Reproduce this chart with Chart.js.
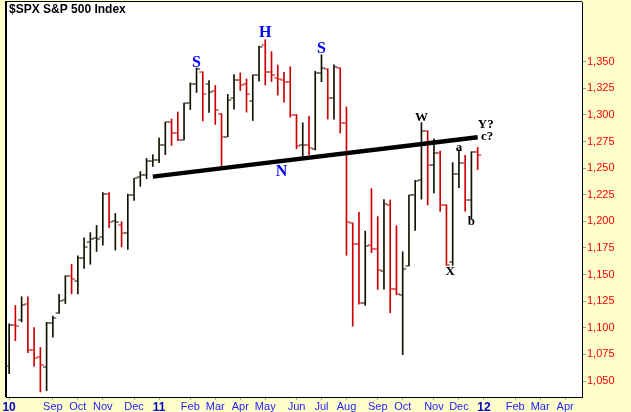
<!DOCTYPE html>
<html>
<head>
<meta charset="utf-8">
<script src="https://cdn.jsdelivr.net/npm/chart.js@4.4.1/dist/chart.umd.min.js"></script>
<style>
  html, body { margin: 0; padding: 0; background: #ffffcc; }
  #wrap { width: 631px; height: 412px; }
</style>
</head>
<body>
<div id="wrap"><canvas id="chart"></canvas></div>
<script>
// weekly bars, $SPX, week ending (Friday)
const weeks = [
  "2010-07-23","2010-07-30","2010-08-06","2010-08-13","2010-08-20","2010-08-27",
  "2010-09-03","2010-09-10","2010-09-17","2010-09-24","2010-10-01","2010-10-08",
  "2010-10-15","2010-10-22","2010-10-29","2010-11-05","2010-11-12","2010-11-19",
  "2010-11-26","2010-12-03","2010-12-10","2010-12-17","2010-12-23","2010-12-31",
  "2011-01-07","2011-01-14","2011-01-21","2011-01-28","2011-02-04","2011-02-11",
  "2011-02-18","2011-02-25","2011-03-04","2011-03-11","2011-03-18","2011-03-25",
  "2011-04-01","2011-04-08","2011-04-15","2011-04-21","2011-04-29","2011-05-06",
  "2011-05-13","2011-05-20","2011-05-27","2011-06-03","2011-06-10","2011-06-17",
  "2011-06-24","2011-07-01","2011-07-08","2011-07-15","2011-07-22","2011-07-29",
  "2011-08-05","2011-08-12","2011-08-19","2011-08-26","2011-09-02","2011-09-09",
  "2011-09-16","2011-09-23","2011-09-30","2011-10-07","2011-10-14","2011-10-21",
  "2011-10-28","2011-11-04","2011-11-11","2011-11-18","2011-11-25","2011-12-02",
  "2011-12-09","2011-12-16","2011-12-23","2011-12-30"
];
const opens = [
  1064.5,1102.9,1107.5,1122.0,1079.0,1073.0,1062.9,1104.6,1113.9,1126.0,1149.0,1143.9,
  1165.3,1180.5,1184.7,1185.7,1225.6,1200.4,1196.8,1189.4,1225.0,1241.8,1243.7,1257.0,
  1257.6,1271.6,1293.2,1283.3,1276.5,1311.0,1328.7,1340.4,1328.6,1322.7,1301.2,1279.5,
  1315.5,1332.9,1329.0,1313.4,1337.1,1365.2,1340.2,1334.8,1333.1,1331.1,1300.3,1271.3,
  1271.5,1268.4,1339.6,1343.3,1315.9,1344.3,1292.6,1198.5,1179.0,1123.1,1177.9,1174.0,
  1153.5,1215.0,1136.9,1131.2,1158.2,1224.5,1238.7,1285.0,1253.2,1263.9,1215.6,1161.4,
  1244.3,1255.1,1219.7,1265.0
];
const highs = [
  1103.7,1120.9,1129.2,1129.2,1100.1,1081.5,1105.1,1110.9,1131.5,1148.9,1159.7,1167.7,
  1184.4,1189.4,1196.1,1227.1,1227.1,1207.4,1199.7,1225.6,1240.4,1246.7,1259.1,1262.6,
  1278.2,1293.2,1296.1,1302.7,1311.0,1330.0,1344.1,1340.4,1332.3,1327.7,1301.2,1319.2,
  1337.9,1339.5,1333.8,1337.5,1364.6,1370.6,1359.4,1346.8,1340.0,1345.2,1300.3,1292.5,
  1298.6,1341.0,1356.5,1343.3,1347.0,1344.3,1307.4,1198.5,1208.5,1190.7,1230.7,1204.4,
  1220.4,1220.1,1195.9,1171.4,1224.6,1238.5,1292.7,1285.0,1277.6,1266.0,1215.6,1255.1,
  1267.1,1262.0,1265.4,1269.4
];
const lows = [
  1056.9,1087.9,1105.6,1076.6,1064.0,1039.7,1040.9,1091.2,1113.5,1122.8,1131.9,1131.9,
  1155.7,1159.7,1171.7,1177.7,1194.1,1173.0,1176.0,1173.6,1219.7,1232.9,1240.0,1251.5,
  1255.0,1262.7,1271.3,1275.8,1276.5,1305.0,1321.0,1294.3,1302.3,1291.0,1249.0,1279.5,
  1305.3,1322.9,1302.6,1294.7,1331.6,1328.0,1331.3,1318.5,1311.8,1297.9,1268.2,1258.1,
  1262.7,1267.0,1331.1,1296.0,1295.9,1282.9,1168.1,1101.5,1122.1,1121.1,1170.6,1136.1,
  1136.2,1114.2,1131.0,1074.8,1158.2,1191.5,1220.8,1215.4,1226.6,1209.4,1158.7,1158.7,
  1231.5,1209.5,1202.4,1248.6
];
const closes = [
  1102.7,1101.6,1121.6,1079.3,1071.7,1064.6,1104.5,1109.6,1125.6,1148.7,1146.2,1165.2,
  1176.2,1183.1,1183.3,1225.9,1199.2,1199.7,1189.4,1224.7,1240.4,1243.9,1256.8,1257.6,
  1271.5,1293.2,1283.4,1276.3,1310.9,1329.2,1343.0,1319.9,1321.2,1304.3,1279.2,1313.8,
  1332.4,1328.2,1319.7,1337.4,1363.6,1340.2,1337.8,1333.3,1331.1,1300.2,1271.0,1271.5,
  1268.5,1339.7,1343.8,1316.1,1345.0,1292.3,1199.4,1178.8,1123.5,1176.8,1174.0,1154.2,
  1216.0,1136.4,1131.4,1155.5,1224.6,1238.3,1285.1,1253.2,1263.9,1215.7,1158.7,1244.3,
  1255.2,1219.7,1265.3,1262.7
];

// neckline drawn on the chart (week index, price)
const trendWeeks = [23, 75];
const trendValues = [1242, 1279];

// axis ticks
const yTicks = [1050, 1075, 1100, 1125, 1150, 1175, 1200, 1225, 1250, 1275, 1300, 1325, 1350];
const tickLabels = ["10","Sep","Oct","Nov","Dec","11","Feb","Mar","Apr","May","Jun","Jul",
                    "Aug","Sep","Oct","Nov","Dec","12","Feb","Mar","Apr"];
const tickWeeks = [0, 7, 11, 15, 20, 24, 29, 33, 37, 41, 46, 50, 54, 59, 63, 68, 72, 76, 81, 85, 89];

// wave labels: text, week index, price
const waveText = ["S", "H", "S", "N", "W", "Y?", "c?", "a", "X", "b"];
const waveWeeks = [30, 41, 50, 43.6, 66, 76.3, 76.5, 72, 70.6, 74];
const waveValues = [1348.5, 1377, 1362, 1246.7, 1297, 1291, 1280, 1269, 1152.4, 1199.4];

const RED = "#cc0000";
const BLACK = "#111100";
const barColors = closes.map((c, i) => (i === 0 || c >= closes[i - 1]) ? BLACK : RED);

const panel = {
  id: "panel",
  beforeDraw(chart) {
    const { ctx, chartArea: a } = chart;
    ctx.save();
    ctx.fillStyle = "#ffffcc";
    ctx.fillRect(0, 0, chart.width, chart.height);
    ctx.fillStyle = "#ffffff";
    ctx.fillRect(a.left, a.top, a.right - a.left, a.bottom - a.top);
    ctx.restore();
  },
  afterDraw(chart) {
    const { ctx, chartArea: a, scales: { x, y } } = chart;
    ctx.save();
    ctx.fillStyle = "#000";
    ctx.fillRect(a.left - 1, a.top - 1, 2, a.bottom - a.top + 1);
    ctx.fillRect(a.left - 1, a.top - 1, a.right - a.left + 1, 1);
    ctx.font = "bold 12px 'Liberation Sans'";
    ctx.textBaseline = "top";
    ctx.fillText("$SPX S&P 500 Index", a.left + 3, a.top + 2);

    ctx.textAlign = "center";
    ctx.textBaseline = "middle";
    waveText.forEach((t, i) => {
      const blue = i < 4;
      ctx.fillStyle = blue ? "#0000ff" : "#000";
      ctx.font = blue ? "bold 16px 'Liberation Serif'" : "bold 13px 'Liberation Serif'";
      ctx.fillText(t, x.getPixelForValue(waveWeeks[i]), y.getPixelForValue(waveValues[i]));
    });
    ctx.restore();
  }
};

// open tick on the left, close tick on the right of each high-low bar
const ohlcTicks = {
  id: "ohlcTicks",
  afterDatasetDraw(chart, args) {
    if (args.index !== 0) return;
    const { ctx, scales: { y } } = chart;
    ctx.save();
    args.meta.data.forEach((bar, i) => {
      ctx.fillStyle = barColors[i];
      const yo = Math.round(y.getPixelForValue(opens[i])) - 0.5;
      const yc = Math.round(y.getPixelForValue(closes[i])) - 0.5;
      ctx.fillRect(bar.x - 3.5, yo, 3, 1);
      ctx.fillRect(bar.x + 0.5, yc, 3, 1);
    });
    ctx.restore();
  }
};

new Chart(document.getElementById("chart"), {
  type: "bar",
  data: {
    datasets: [
      {
        type: "bar",
        data: weeks.map((w, i) => ({ x: i, y: [lows[i], highs[i]] })),
        backgroundColor: barColors,
        barThickness: 1,
        order: 1
      },
      {
        type: "line",
        data: trendWeeks.map((w, i) => ({ x: w, y: trendValues[i] })),
        borderColor: "#000",
        borderWidth: 4.5,
        borderCapStyle: "butt",
        pointRadius: 0,
        order: 0
      }
    ]
  },
  options: {
    responsive: true,
    maintainAspectRatio: false,
    animation: false,
    layout: { padding: { left: 6, top: 2, right: 0, bottom: 0 } },
    plugins: { legend: { display: false }, tooltip: { enabled: false } },
    scales: {
      x: {
        type: "linear",
        offset: false,
        min: -0.5,
        max: 91.7,
        afterBuildTicks: (scale) => { scale.ticks = tickWeeks.map(v => ({ value: v })); },
        afterFit: (scale) => {
          scale.height = 15;
          scale.paddingLeft = 0;
          scale.paddingRight = 0;
        },
        grid: { drawOnChartArea: false, tickLength: 3, color: "#aaa", offset: false },
        border: { color: "#000", width: 1 },
        ticks: {
          autoSkip: false,
          maxRotation: 0,
          padding: 0,
          callback: (v, i) => tickLabels[i],
          color: (c) => /^\d+$/.test(tickLabels[c.index]) ? "#0000cc" : "#2222ff",
          font: (c) => /^\d+$/.test(tickLabels[c.index])
            ? { family: "'Liberation Sans'", size: 12, weight: "bold" }
            : { family: "'Liberation Sans'", size: 11 }
        }
      },
      y: {
        position: "right",
        min: 1035,
        max: 1406,
        afterBuildTicks: (scale) => { scale.ticks = yTicks.map(v => ({ value: v })); },
        afterFit: (scale) => {
          scale.width = 49;
          scale.paddingTop = 0;
          scale.paddingBottom = 0;
        },
        grid: { drawOnChartArea: false, tickLength: 4, color: "#999" },
        border: { color: "#000", width: 1 },
        ticks: {
          padding: 1,
          color: "#ff0000",
          font: { family: "'Liberation Sans'", size: 11 },
          callback: (v) => v.toLocaleString("en-US")
        }
      }
    }
  },
  plugins: [panel, ohlcTicks]
});
</script>
</body>
</html>
